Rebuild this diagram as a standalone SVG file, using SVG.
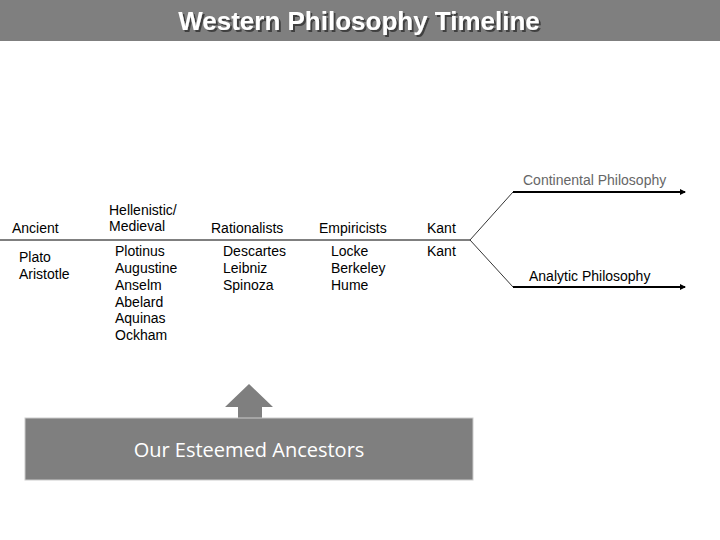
<svg xmlns="http://www.w3.org/2000/svg" width="720" height="540" viewBox="0 0 720 540">
<defs>
<marker id="ah" markerWidth="6" markerHeight="6" refX="5" refY="3" orient="auto" markerUnits="userSpaceOnUse"><path d="M0,0 L6,3 L0,6 z" fill="#000"/></marker>
<filter id="sh" x="-5%" y="-20%" width="110%" height="150%"><feDropShadow dx="2" dy="2" stdDeviation="0.5" flood-color="#333" flood-opacity="0.8"/></filter>
</defs>
<style>
.t{font-family:"Liberation Sans",Arial,sans-serif;font-size:14px;fill:#000}
.g{fill:#666}
</style>
<rect width="720" height="540" fill="#fff"/>
<g id="banner"><rect x="0" y="0" width="720" height="41" fill="#7f7f7f"/>
<text x="359" y="30" text-anchor="middle" font-family="Liberation Sans,Arial,sans-serif" font-size="26" font-weight="bold" fill="#fff" filter="url(#sh)">Western Philosophy Timeline</text></g>
<g id="connectors" stroke="#000" fill="none">
<line x1="0" y1="240" x2="470" y2="240" stroke-width="1"/>
<polyline points="470,240 513,192 683,192" stroke-width="0.8"/>
<polyline points="470,240 513,287 683,287" stroke-width="0.8"/>
<line x1="513" y1="192" x2="685" y2="192" stroke-width="2" marker-end="url(#ah)"/>
<line x1="513" y1="287" x2="685" y2="287" stroke-width="2" marker-end="url(#ah)"/>
</g>
<g id="ancient"><text class="t" x="12" y="233">Ancient</text><text class="t" x="19" y="262">Plato</text><text class="t" x="19" y="279">Aristotle</text></g>
<g id="medieval"><text class="t" x="109" y="215">Hellenistic/</text><text class="t" x="109" y="231">Medieval</text>
<text class="t" x="115" y="256">Plotinus</text><text class="t" x="115" y="273">Augustine</text><text class="t" x="115" y="290">Anselm</text><text class="t" x="115" y="307">Abelard</text><text class="t" x="115" y="323">Aquinas</text><text class="t" x="115" y="340">Ockham</text></g>
<g id="rationalists"><text class="t" x="211" y="233">Rationalists</text><text class="t" x="223" y="256">Descartes</text><text class="t" x="223" y="273">Leibniz</text><text class="t" x="223" y="290">Spinoza</text></g>
<g id="empiricists"><text class="t" x="319" y="233">Empiricists</text><text class="t" x="331" y="256">Locke</text><text class="t" x="331" y="273">Berkeley</text><text class="t" x="331" y="290">Hume</text></g>
<g id="kant"><text class="t" x="427" y="233">Kant</text><text class="t" x="427" y="256">Kant</text></g>
<g id="continental"><text class="t g" x="523" y="185">Continental Philosophy</text></g>
<g id="analytic"><text class="t" x="529" y="281">Analytic Philosophy</text></g>
<g id="ancestors">
<polygon points="249,384 273,407 262,407 262,419 238,419 238,407 225,407" fill="#7f7f7f"/>
<rect x="25" y="418" width="448" height="62" fill="#7f7f7f" stroke="#ccc" stroke-width="1"/>
<text x="249" y="457" text-anchor="middle" font-family="Open Sans,sans-serif" font-size="20" fill="#fff">Our Esteemed Ancestors</text>
</g>
</svg>
